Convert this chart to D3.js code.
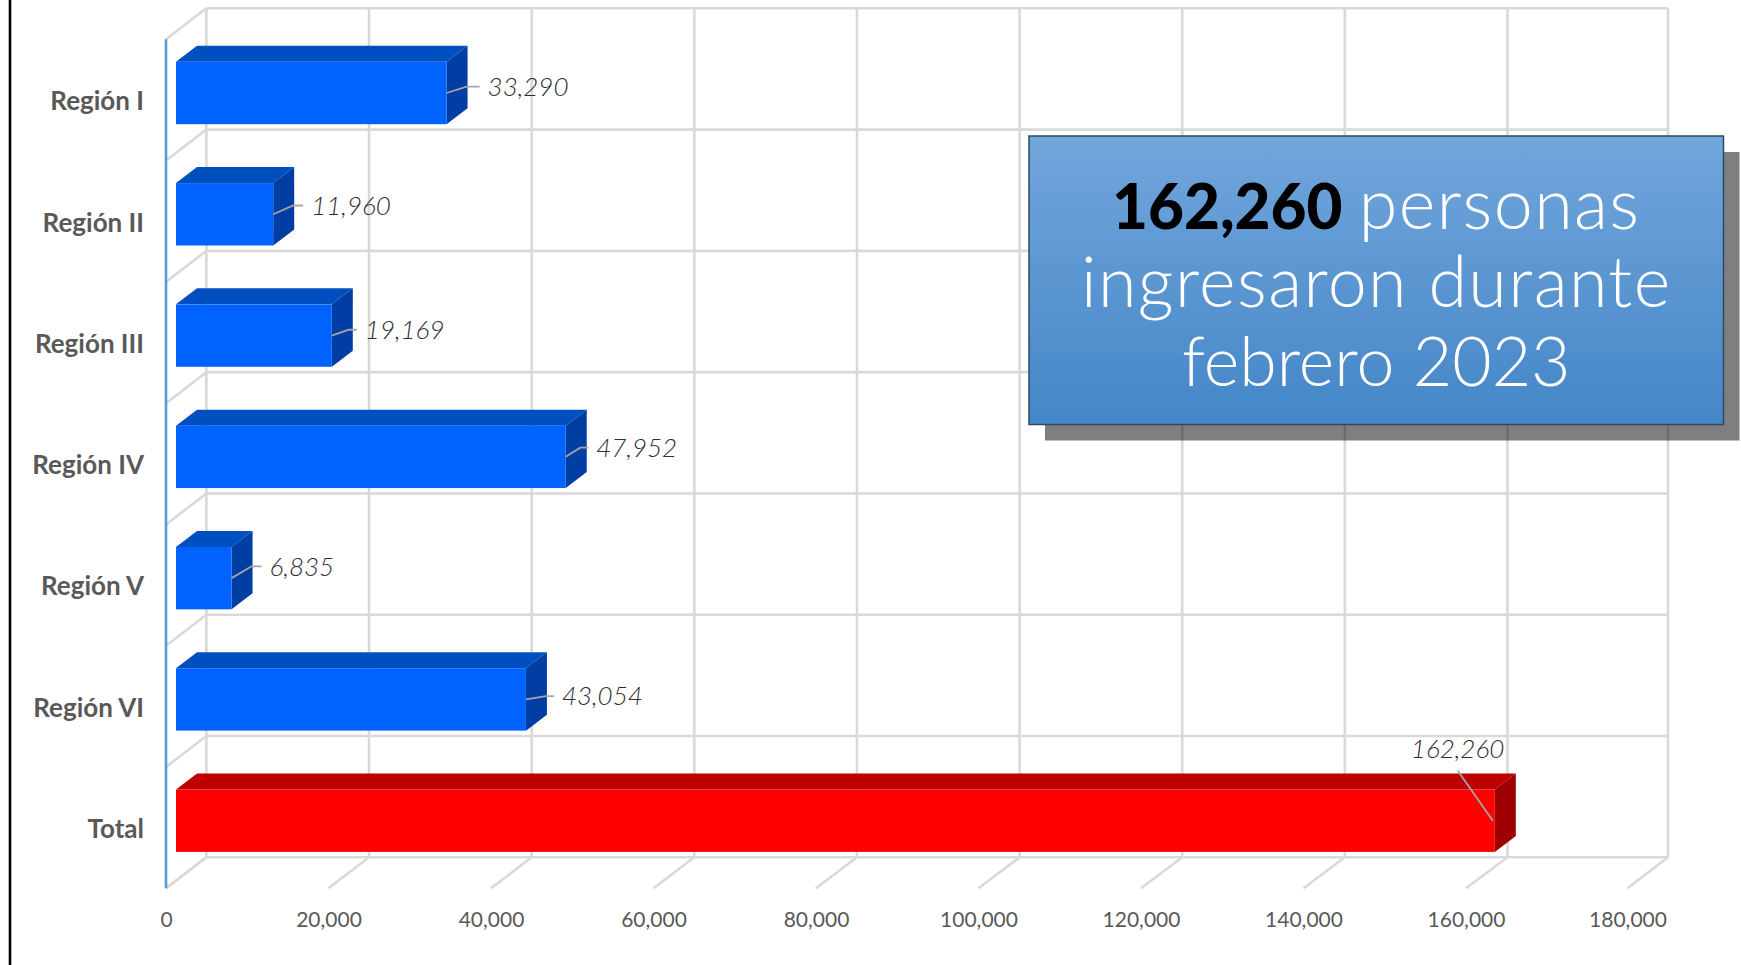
<!DOCTYPE html>
<html lang="es">
<head>
<meta charset="utf-8">
<title>Personas por región</title>
<script src="https://cdn.jsdelivr.net/npm/d3@7"></script>
<style>
  html, body { margin: 0; padding: 0; background: #fff; }
  svg { display: block; }
  .tick line, .domain { display: none; }
</style>
</head>
<body>
<svg id="chart" width="1741" height="965"></svg>
<script>
const categories = ["Región I", "Región II", "Región III", "Región IV", "Región V", "Región VI", "Total"];
const values = [33290, 11960, 19169, 47952, 6835, 43054, 162260];
const xTicks = [0, 20000, 40000, 60000, 80000, 100000, 120000, 140000, 160000, 180000];
const boxLines = ["personas", "ingresaron durante", "febrero 2023"];
const boxBold = "162,260";

// hand placed data labels in the original, offset from the end of each bar
const labelDx = [41, 38, 33, 30.5, 38, 36, -84];
const labelDy = [-6.3, -8.8, -5.8, -9.2, -11.8, -3.3, -72.4];

const view = { width: 1741, height: 965 };
const depth = { wallX: 40.5, wallY: 31, barX: 21, barY: 16 };
const barColors = {
  blue: { front: "#0063ff", top: "#004fc0", side: "#003ea3" },
  red: { front: "#ff0000", top: "#bf0000", side: "#9e0000" }
};

const svg = d3.select("svg#chart").attr("viewBox", [0, 0, view.width, view.height]);

// back wall, floor front edge and bar front use the same value scale, just shifted.
// the last interval is a little short in the original
const xBack = d3.scaleLinear().domain([0, 160000, 180000]).range([206.4, 1507.5, 1668]);
const xFloor = d3.scaleLinear().domain([0, 160000, 180000]).range([166, 1466, 1627.5]);
const xBar = d3.scaleLinear().domain([0, 180000]).range([176, 1639]);
const yBack = d3.scaleBand().domain(categories).range([8.3, 857.3]);
const yFront = d3.scaleBand().domain(categories).range([39.3, 888.3]);

// page edge line
svg.append("line")
  .attr("x1", 10).attr("x2", 10).attr("y1", 0).attr("y2", view.height)
  .attr("stroke", "#000").attr("stroke-width", 2.6);

const grid = svg.append("g").attr("stroke", "#d9d9d9").attr("stroke-width", 2.6).attr("fill", "none");
const rows = [...categories.map(c => yBack(c)), yBack.range()[1]];

grid.selectAll("line.v").data(xTicks).join("line").attr("class", "v")
  .attr("x1", d => xBack(d)).attr("x2", d => xBack(d))
  .attr("y1", yBack.range()[0]).attr("y2", yBack.range()[1]);
grid.selectAll("line.h").data(rows).join("line").attr("class", "h")
  .attr("x1", xBack(0)).attr("x2", xBack(180000))
  .attr("y1", d => d).attr("y2", d => d);
// side wall diagonals
grid.selectAll("line.side").data(rows).join("line").attr("class", "side")
  .attr("x1", xBack(0)).attr("x2", xFloor(0))
  .attr("y1", d => d).attr("y2", d => d + depth.wallY);
// floor diagonals
grid.selectAll("line.floor").data(xTicks).join("line").attr("class", "floor")
  .attr("x1", d => xBack(d)).attr("x2", d => xFloor(d))
  .attr("y1", yBack.range()[1]).attr("y2", yBack.range()[1] + depth.wallY);

svg.append("line")
  .attr("x1", xFloor(0)).attr("x2", xFloor(0))
  .attr("y1", yFront.range()[0]).attr("y2", yFront.range()[1])
  .attr("stroke", "#5b9bd5").attr("stroke-width", 2.6);

// bars
const barH = 62.4;
const barTop = c => yFront(c) + 22.5;
const rowsData = categories.map((c, i) => ({ c, v: values[i], i, colors: c === "Total" ? barColors.red : barColors.blue }));
const bar = svg.append("g").selectAll("g").data(rowsData).join("g");

bar.append("polygon")
  .attr("fill", d => d.colors.top)
  .attr("points", d => {
    const x0 = xBar(0), x1 = xBar(d.v), y = barTop(d.c);
    return [[x0, y], [x0 + depth.barX, y - depth.barY], [x1 + depth.barX, y - depth.barY], [x1, y]].join(" ");
  });
bar.append("polygon")
  .attr("fill", d => d.colors.side)
  .attr("points", d => {
    const x1 = xBar(d.v), y = barTop(d.c);
    return [[x1, y], [x1 + depth.barX, y - depth.barY], [x1 + depth.barX, y + barH - depth.barY], [x1, y + barH]].join(" ");
  });
bar.append("rect")
  .attr("fill", d => d.colors.front)
  .attr("x", xBar(0))
  .attr("y", d => barTop(d.c))
  .attr("width", d => xBar(d.v) - xBar(0))
  .attr("height", barH);

// leader lines and value labels
bar.append("path")
  .attr("fill", "none").attr("stroke", "#a6a6a6").attr("stroke-width", 1.8)
  .attr("d", d => {
    const x = xBar(d.v), y = barTop(d.c) + barH / 2;
    const ly = y + labelDy[d.i];
    if (d.c === "Total") return d3.line()([[x - 2, y], [x - 37, y - 50]]);
    const end = x + labelDx[d.i] - 8;
    return d3.line()([[x, y], [Math.min(x + 20, end - 8), ly], [end, ly]]);
  });
bar.append("text")
  .attr("x", d => xBar(d.v) + labelDx[d.i])
  .attr("y", d => barTop(d.c) + barH / 2 + labelDy[d.i])
  .attr("dy", "0.36em")
  .attr("font-family", "Lato, sans-serif")
  .attr("font-style", "italic")
  .attr("font-weight", 300)
  .attr("font-size", 26)
  .attr("fill", "#2e2e2e")
  .text(d => d3.format(",")(d.v));

// axes
const xAxis = svg.append("g")
  .attr("transform", "translate(0, 907)")
  .call(d3.axisBottom(xFloor).tickValues(xTicks).tickFormat(d3.format(",")).tickSize(0).tickPadding(0));
xAxis.selectAll("text")
  .attr("font-family", "Lato, sans-serif").attr("font-size", 21).attr("fill", "#595959").attr("dy", "0.95em");

const yAxis = svg.append("g")
  .attr("transform", "translate(144, 2)")
  .call(d3.axisLeft(yFront).tickSize(0).tickPadding(0));
yAxis.selectAll("text")
  .attr("font-family", "Lato, sans-serif").attr("font-weight", 700).attr("font-size", 26).attr("fill", "#595959");

// callout box
const defs = svg.append("defs");
const grad = defs.append("linearGradient").attr("id", "boxFill").attr("x1", 0).attr("x2", 0).attr("y1", 0).attr("y2", 1);
grad.append("stop").attr("offset", 0).attr("stop-color", "#72a6dc");
grad.append("stop").attr("offset", 1).attr("stop-color", "#4486c7");

const box = { x: 1029, y: 136, w: 694.5, h: 288.5, shadow: 16 };
svg.append("rect")
  .attr("x", box.x + box.shadow).attr("y", box.y + box.shadow)
  .attr("width", box.w).attr("height", box.h)
  .attr("fill", "#000").attr("opacity", 0.5);
svg.append("rect")
  .attr("x", box.x).attr("y", box.y)
  .attr("width", box.w).attr("height", box.h)
  .attr("fill", "url(#boxFill)").attr("stroke", "#2c4a68").attr("stroke-width", 1.5);

// Lato is narrower than the font of the original, so the light lines are opened up a bit
const boxText = svg.append("g")
  .attr("font-family", "Lato, sans-serif")
  .attr("font-weight", 300)
  .attr("text-anchor", "middle")
  .attr("fill", "#fff");
const cx = box.x + box.w / 2;
const first = boxText.append("text").attr("x", cx).attr("y", 228.5).attr("font-size", 70).attr("letter-spacing", 1.4);
first.append("tspan").attr("font-weight", 900).attr("font-size", 62).attr("letter-spacing", 0).attr("fill", "#000").text(boxBold);
first.append("tspan").attr("dx", -4).text(" " + boxLines[0]);
boxText.append("text").attr("x", cx).attr("y", 306.5).attr("font-size", 70).attr("letter-spacing", 1.4).text(boxLines[1]);
boxText.append("text").attr("x", cx).attr("y", 385.5).attr("font-size", 68).text(boxLines[2]);
</script>
</body>
</html>
